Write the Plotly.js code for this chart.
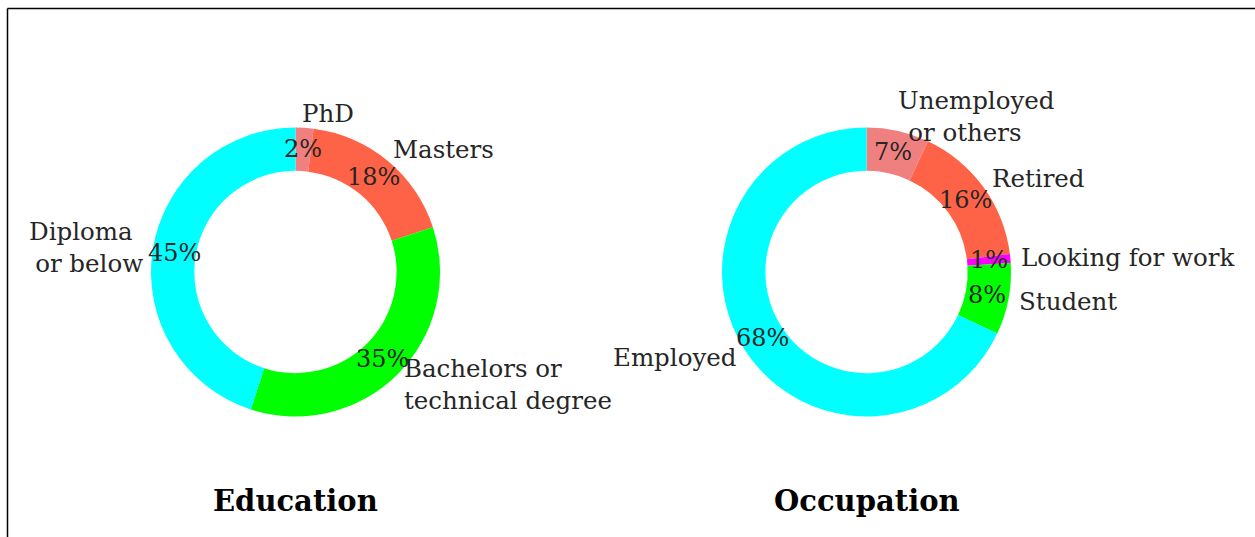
<!DOCTYPE html>
<html>
<head>
<meta charset="utf-8">
<script src="https://cdn.plot.ly/plotly-3.0.1.min.js"></script>
<style>html,body{margin:0;padding:0;background:#fff;}#chart{width:1255px;height:537px;}</style>
</head>
<body>
<div id="chart"></div>
<script>
// ---- data ----
const eduLabels = ["PhD", "Masters", "Bachelors or<br>technical degree", "Diploma<br>&#8197;or below"];
const eduValues = [2, 18, 35, 45];
const eduColors = ["#F08080", "#FF6347", "#00FF00", "#00FFFF"];

const occLabels = ["Unemployed<br>&nbsp;&#8202;or others", "Retired", "Looking for work", "Student", "Employed"];
const occValues = [7, 16, 1, 8, 68];
const occColors = ["#F08080", "#FF6347", "#FF00FF", "#00FF00", "#00FFFF"];

const titles = ["Education", "Occupation"];

// ---- layout parameters ----
const W = 1255, H = 537;
const R = 144.5;
const HOLE = 0.7;
const centers = [[295.5, 272], [866.5, 272]];
const LABEL_DIST = 1.1, PCT_DIST = 0.85;
const FONT = "DejaVu Serif, serif";
const LABEL_SIZE = 24.5, PCT_SIZE = 24, TITLE_SIZE = 29;

const traces = [];
const annotations = [];

function addDonut(labels, values, colors, center, title) {
  const [cx, cy] = center;
  traces.push({
    type: "pie",
    values: values,
    labels: labels,
    marker: {colors: colors, line: {width: 0}},
    hole: HOLE,
    sort: false,
    direction: "clockwise",
    rotation: 0,
    textinfo: "none",
    hoverinfo: "label+percent",
    showlegend: false,
    domain: {
      x: [(cx - R) / W, (cx + R) / W],
      y: [(H - cy - R) / H, (H - cy + R) / H]
    }
  });
  const total = values.reduce((a, b) => a + b, 0);
  let cum = 0;
  values.forEach((v, i) => {
    const mid = (cum + v / 2) / total;
    cum += v;
    const ang = Math.PI / 2 - mid * 2 * Math.PI;
    const c = Math.cos(ang), s = Math.sin(ang);
    annotations.push({
      xref: "x", yref: "y",
      x: cx + LABEL_DIST * R * c + (c >= 0 ? -5.5 : 6), y: cy - LABEL_DIST * R * s,
      text: labels[i], showarrow: false,
      xanchor: c >= 0 ? "left" : "right", yanchor: "middle",
      align: "left",
      font: {family: FONT, size: LABEL_SIZE, color: "#262626"}
    });
    annotations.push({
      xref: "x", yref: "y",
      x: cx + PCT_DIST * R * c, y: cy - PCT_DIST * R * s,
      text: Math.round(v / total * 100) + "%", showarrow: false,
      xanchor: "center", yanchor: "middle",
      font: {family: FONT, size: PCT_SIZE, color: "#262626"}
    });
  });
  annotations.push({
    xref: "x", yref: "y", x: cx, y: 500.5,
    text: "<b>" + title + "</b>", showarrow: false,
    xanchor: "center", yanchor: "middle",
    font: {family: FONT, size: TITLE_SIZE, color: "#000"}
  });
}

addDonut(eduLabels, eduValues, eduColors, centers[0], titles[0]);
addDonut(occLabels, occValues, occColors, centers[1], titles[1]);

const layout = {
  width: W, height: H,
  margin: {l: 0, r: 0, t: 0, b: 0},
  paper_bgcolor: "#fff", plot_bgcolor: "rgba(0,0,0,0)",
  xaxis: {range: [0, W], visible: false, fixedrange: true},
  yaxis: {range: [H, 0], visible: false, fixedrange: true},
  showlegend: false,
  annotations: annotations,
  shapes: [
    {type: "line", xref: "x", yref: "y", x0: 7.5, y0: 8.5, x1: W + 5, y1: 8.5, line: {color: "#000", width: 1.5}},
    {type: "line", xref: "x", yref: "y", x0: 7.5, y0: 8.5, x1: 7.5, y1: H + 5, line: {color: "#000", width: 1.5}}
  ]
};

Plotly.newPlot("chart", traces, layout, {staticPlot: true, displayModeBar: false});
</script>
</body>
</html>
